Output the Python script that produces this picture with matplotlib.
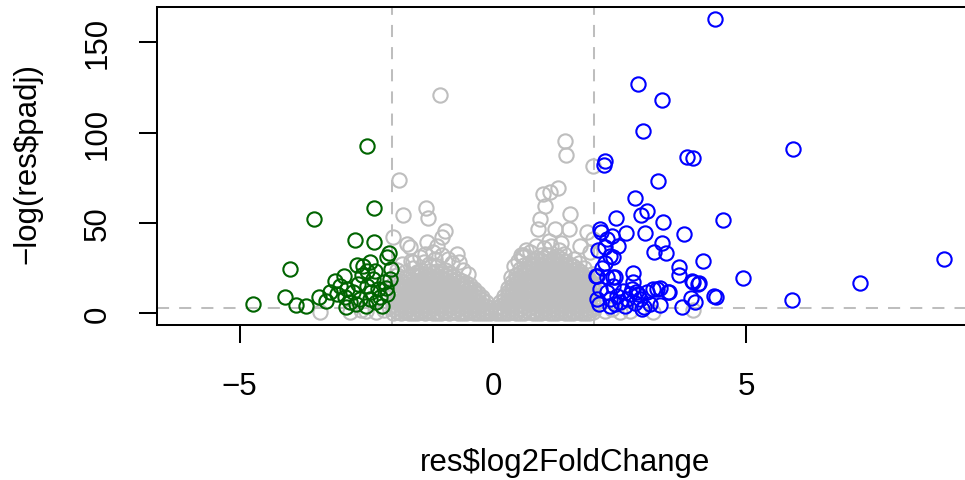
import numpy as np
import matplotlib
matplotlib.use("Agg")
import matplotlib.pyplot as plt

plt.rcParams['font.family'] = ['Liberation Sans', 'DejaVu Sans']

# dense grey mass (not significant), read column by column: x -> list of -log(padj)
gray_cols = {
    -1.98: [0.3, 2.1, 4.6, 7.0, 10.2, 13.1, 16.0],
    -1.90: [0.5, 1.5, 3.5, 6.1, 8.4, 11.2, 14.0, 17.3, 21.0],
    -1.82: [0.2, 2.5, 5.1, 7.5, 9.8, 12.6, 15.2, 18.0],
    -1.74: [0.6, 1.8, 4.0, 6.5, 9.1, 11.4, 14.1, 16.4, 19.6, 23.0],
    -1.66: [0.3, 2.2, 4.8, 7.2, 9.6, 12.1, 14.5, 17.1, 20.2],
    -1.58: [0.4, 1.5, 3.8, 6.0, 8.5, 11.0, 13.4, 16.1, 18.6, 21.2, 25.0],
    -1.50: [0.2, 2.6, 5.0, 7.5, 10.1, 12.5, 15.0, 17.6, 20.1],
    -1.42: [0.5, 1.6, 4.0, 6.4, 8.8, 11.3, 13.6, 16.0, 18.4, 21.1, 24.2],
    -1.34: [0.3, 2.4, 4.8, 7.2, 9.6, 12.0, 14.4, 16.9, 19.2, 21.7],
    -1.26: [0.6, 1.7, 4.1, 6.5, 8.9, 11.3, 13.7, 16.1, 18.5, 20.9, 23.5, 27.0],
    -1.18: [0.2, 2.8, 5.2, 7.6, 10.0, 12.4, 14.8, 17.2, 19.6, 22.1],
    -1.10: [0.4, 1.5, 3.9, 6.3, 8.7, 11.1, 13.5, 15.9, 18.3, 20.7, 23.5, 26.0],
    -1.02: [0.3, 2.5, 4.9, 7.3, 9.7, 12.1, 14.5, 16.9, 19.3, 21.8],
    -0.94: [0.6, 1.8, 4.2, 6.6, 9.0, 11.4, 13.8, 16.2, 18.6, 21.0, 24.0],
    -0.86: [0.2, 2.7, 5.1, 7.5, 9.9, 12.3, 14.7, 17.1, 19.5, 22.0],
    -0.78: [0.5, 1.6, 4.0, 6.4, 8.8, 11.2, 13.6, 16.0, 18.4, 20.5],
    -0.70: [0.3, 2.4, 4.8, 7.2, 9.6, 12.0, 14.4, 16.8, 19.0],
    -0.62: [0.4, 1.5, 3.9, 6.3, 8.7, 11.1, 13.5, 15.9, 18.0],
    -0.54: [0.2, 2.6, 5.0, 7.4, 9.8, 12.2, 14.6, 17.0],
    -0.46: [0.5, 1.7, 4.1, 6.5, 8.9, 11.3, 13.7, 15.5],
    -0.38: [0.3, 2.3, 4.7, 7.1, 9.5, 11.9, 13.5],
    -0.30: [0.4, 1.6, 4.0, 6.4, 8.8, 11.0],
    -0.22: [0.2, 2.4, 4.8, 7.2, 9.0],
    -0.14: [0.3, 1.6, 3.8, 6.0],
    -0.06: [0.2, 1.5, 3.0],
    0.06: [0.2, 1.4, 2.8],
    0.14: [0.3, 2.0, 4.2, 6.5],
    0.22: [0.4, 2.5, 5.0, 7.5, 9.8],
    0.30: [0.2, 1.8, 4.3, 6.8, 9.3, 11.8, 14.0],
    0.38: [0.5, 2.6, 5.1, 7.6, 10.1, 12.6, 15.1, 17.5],
    0.46: [0.3, 1.7, 4.2, 6.7, 9.2, 11.7, 14.2, 16.7, 19.2, 21.0],
    0.54: [0.4, 2.4, 4.9, 7.4, 9.9, 12.4, 14.9, 17.4, 19.9, 22.4, 24.5],
    0.62: [0.2, 1.6, 4.1, 6.6, 9.1, 11.6, 14.1, 16.6, 19.1, 21.6, 24.1, 26.5],
    0.70: [0.5, 2.7, 5.2, 7.7, 10.2, 12.7, 15.2, 17.7, 20.2, 22.7, 25.2, 28.0],
    0.78: [0.3, 1.5, 4.0, 6.5, 9.0, 11.5, 14.0, 16.5, 19.0, 21.5, 24.0, 26.5, 29.5],
    0.86: [0.4, 2.5, 5.0, 7.5, 10.0, 12.5, 15.0, 17.5, 20.0, 22.5, 25.0, 27.5, 30.5],
    0.94: [0.2, 1.8, 4.3, 6.8, 9.3, 11.8, 14.3, 16.8, 19.3, 21.8, 24.3, 26.8, 29.3, 32.0],
    1.02: [0.5, 2.6, 5.1, 7.6, 10.1, 12.6, 15.1, 17.6, 20.1, 22.6, 25.1, 27.6, 30.5],
    1.10: [0.3, 1.6, 4.1, 6.6, 9.1, 11.6, 14.1, 16.6, 19.1, 21.6, 24.1, 26.6, 29.1, 32.0],
    1.18: [0.4, 2.4, 4.9, 7.4, 9.9, 12.4, 14.9, 17.4, 19.9, 22.4, 24.9, 27.4, 30.0],
    1.26: [0.2, 1.7, 4.2, 6.7, 9.2, 11.7, 14.2, 16.7, 19.2, 21.7, 24.2, 26.7, 29.2, 31.5],
    1.34: [0.5, 2.5, 5.0, 7.5, 10.0, 12.5, 15.0, 17.5, 20.0, 22.5, 25.0, 27.5, 30.0],
    1.42: [0.3, 1.8, 4.3, 6.8, 9.3, 11.8, 14.3, 16.8, 19.3, 21.8, 24.3, 26.8, 29.0],
    1.50: [0.4, 2.6, 5.1, 7.6, 10.1, 12.6, 15.1, 17.6, 20.1, 22.6, 25.1, 27.5],
    1.58: [0.2, 1.5, 4.0, 6.5, 9.0, 11.5, 14.0, 16.5, 19.0, 21.5, 24.0, 26.0],
    1.66: [0.5, 2.4, 4.9, 7.4, 9.9, 12.4, 14.9, 17.4, 19.9, 22.4, 24.5],
    1.74: [0.3, 1.7, 4.2, 6.7, 9.2, 11.7, 14.2, 16.7, 19.2, 21.7, 23.0],
    1.82: [0.4, 2.5, 5.0, 7.5, 10.0, 12.5, 15.0, 17.5, 20.0],
    1.90: [0.2, 1.8, 4.3, 6.8, 9.3, 11.8, 14.3, 16.8, 19.0],
    1.98: [0.5, 2.6, 5.1, 7.6, 10.1, 12.6, 15.1, 17.0],
}

# loose grey points around the mass
gray_x_extra = [-1.05, -1.85, -1.77, -1.32, -1.28, -1.97, -1.70, -1.64, -1.30, -1.11, -0.95,
                -1.01, -0.72, -0.68, -1.18, -1.37, -1.57, -1.50, -1.90, -1.80, -1.62, -1.45,
                -1.35, -1.15, -1.00, -0.88, -0.80, -0.60, -0.50,
                1.42, 1.43, 1.98, 1.29, 1.12, 0.99, 1.03, 0.93, 0.89, 1.52, 1.49, 1.22, 1.85,
                1.98, 1.72, 1.91, 0.59, 0.35, 0.42, 0.50, 0.60, 0.72, 0.85, 1.00, 1.15, 1.30,
                1.40, 1.60, 1.70, 1.80, 1.95, 0.55, 0.65, 1.10, 1.35,
                -3.41, -2.82, -2.50, -2.30, -2.15, -2.60, 2.50, 2.70, 3.16, 3.94, 2.20, 2.35]
gray_y_extra = [120.9, 74.0, 54.4, 58.3, 52.8, 42.0, 38.4, 36.6, 39.6, 37.4, 45.7,
                42.1, 32.8, 28.2, 33.8, 28.2, 28.2, 22.7, 24.0, 27.0, 29.0, 31.0,
                33.0, 30.0, 32.0, 30.0, 28.0, 24.0, 22.0,
                95.6, 87.7, 81.7, 69.2, 67.0, 66.0, 59.5, 52.2, 46.7, 55.0, 46.7, 46.7, 44.9,
                41.1, 37.4, 33.8, 32.0, 20.0, 26.0, 29.0, 31.0, 34.0, 37.0, 36.0, 37.0, 35.0,
                33.0, 30.0, 28.0, 25.0, 22.0, 32.0, 35.0, 40.0, 39.0,
                0.7, 0.8, 1.2, 0.5, 1.8, 2.0, 0.8, 1.5, 0.7, 1.8, 1.0, 2.2]

# down-regulated (log2FC < -2, padj < 0.05)
down_x = [-2.49, -2.35, -3.54, -2.72, -2.34, -2.05, -2.09, -4.00, -4.74, -4.10, -3.88, -3.69,
          -3.44, -3.30, -2.69, -2.56, -2.43, -2.49, -2.33, -3.12, -3.02, -2.89, -3.08, -2.92,
          -2.76, -2.66, -2.49, -2.36, -2.26, -2.16, -3.21, -2.82, -2.62, -2.43, -2.23, -2.10,
          -2.03, -2.02, -2.90, -2.50, -2.20, -2.70, -2.30, -2.95, -2.58, -2.40, -2.12]
down_y = [92.8, 58.1, 52.0, 40.8, 39.6, 33.4, 31.0, 24.5, 5.0, 8.9, 4.6, 4.2,
          9.2, 7.0, 26.7, 26.0, 28.2, 23.6, 23.6, 18.0, 15.3, 13.5, 10.7, 8.9,
          11.6, 16.2, 15.3, 19.0, 13.5, 17.2, 11.6, 6.1, 7.9, 7.9, 8.9, 10.7,
          19.0, 24.5, 3.5, 3.8, 4.0, 5.0, 6.0, 20.5, 21.0, 12.0, 14.0]

# up-regulated (log2FC > 2, padj < 0.05)
up_x = [4.37, 2.87, 3.33, 2.96, 5.92, 2.21, 2.19, 3.83, 3.94, 3.25, 2.81, 2.91, 3.04, 3.36,
        4.54, 2.43, 2.62, 3.00, 3.77, 3.34, 3.42, 3.18, 4.14, 3.67, 3.66, 4.94, 7.24, 8.90,
        5.89, 3.95, 4.06, 3.47, 3.72, 3.90, 3.98, 4.35, 4.39, 2.76, 2.94, 3.16, 3.29, 3.03,
        2.87, 2.74, 2.05, 2.24, 2.41, 2.11, 2.14, 2.24, 2.34, 2.47, 2.21, 2.31, 2.37, 2.03,
        2.37, 2.77, 3.23, 3.46, 3.92, 4.05, 2.11, 2.24, 2.37, 2.44, 2.57, 2.70, 2.83, 2.50,
        2.31, 2.64, 2.90, 2.97, 2.05, 2.10, 2.15, 2.20, 2.08, 2.30, 2.40, 2.60, 2.80, 3.10, 3.30]
up_y = [163.0, 127.0, 118.3, 100.6, 91.0, 84.0, 82.0, 86.7, 86.2, 73.4, 64.0, 54.4, 56.6, 50.4,
        51.5, 52.6, 44.5, 44.5, 44.1, 38.9, 33.4, 33.9, 29.0, 25.5, 21.2, 19.7, 16.6, 30.0,
        7.5, 17.5, 16.8, 11.6, 3.3, 8.5, 6.4, 9.7, 9.2, 22.1, 2.4, 13.5, 13.8, 11.6,
        10.7, 13.5, 20.8, 19.9, 19.9, 46.7, 44.9, 41.1, 42.6, 37.4, 36.5, 31.9, 31.0, 20.8,
        19.9, 17.2, 13.5, 11.6, 18.0, 16.2, 13.5, 11.6, 15.3, 9.7, 12.5, 10.7, 11.6, 6.1,
        7.9, 7.9, 7.9, 3.5, 8.0, 5.0, 25.0, 28.0, 35.0, 4.0, 5.0, 4.0, 5.5, 5.0, 4.5]

lfc_cut = 2
padj_cut = -np.log(0.05)

gray_x = []
gray_y = []
for cx, ys in gray_cols.items():
    for yv in ys:
        gray_x.append(cx)
        gray_y.append(yv)
gray_x += gray_x_extra
gray_y += gray_y_extra

fig = plt.figure(figsize=(9.65, 4.81), dpi=100)
ax = fig.add_axes([157 / 965, 155 / 481, 816 / 965, 318 / 481])

dash = dict(color='#BEBEBE', lw=1.45, dashes=(6, 5), zorder=1)
ax.axvline(-lfc_cut, **dash)
ax.axvline(lfc_cut, **dash)
ax.axhline(padj_cut, **dash)

ring = dict(linestyle='none', marker='o', mfc='none', ms=10.3, mew=1.5, zorder=2)
ax.plot(gray_x, gray_y, mec='#BEBEBE', **ring)
ax.plot(down_x, down_y, mec='#006400', **ring)
ax.plot(up_x, up_y, mec='#0000FF', **ring)

ax.set_xlim(-6.63, 9.47)
ax.set_ylim(-6.5, 169.5)
ax.set_xticks([-5, 0, 5])
ax.set_yticks([0, 50, 100, 150])
ax.tick_params(direction='out', length=13, width=1.45, labelsize=22.5)
ax.tick_params(axis='x', pad=20)
ax.tick_params(axis='y', pad=19, labelrotation=90)
for lab in ax.get_yticklabels():
    lab.set_va('center')
for s in ax.spines.values():
    s.set_linewidth(1.45)

ax.set_xlabel('res$log2FoldChange', fontsize=22.5)
ax.set_ylabel('\u2212log(res$padj)', fontsize=22.5)
ax.xaxis.set_label_coords(0.5, -0.385)
ax.yaxis.set_label_coords(-0.14, 0.51)

fig.savefig('out.png', dpi=100)
